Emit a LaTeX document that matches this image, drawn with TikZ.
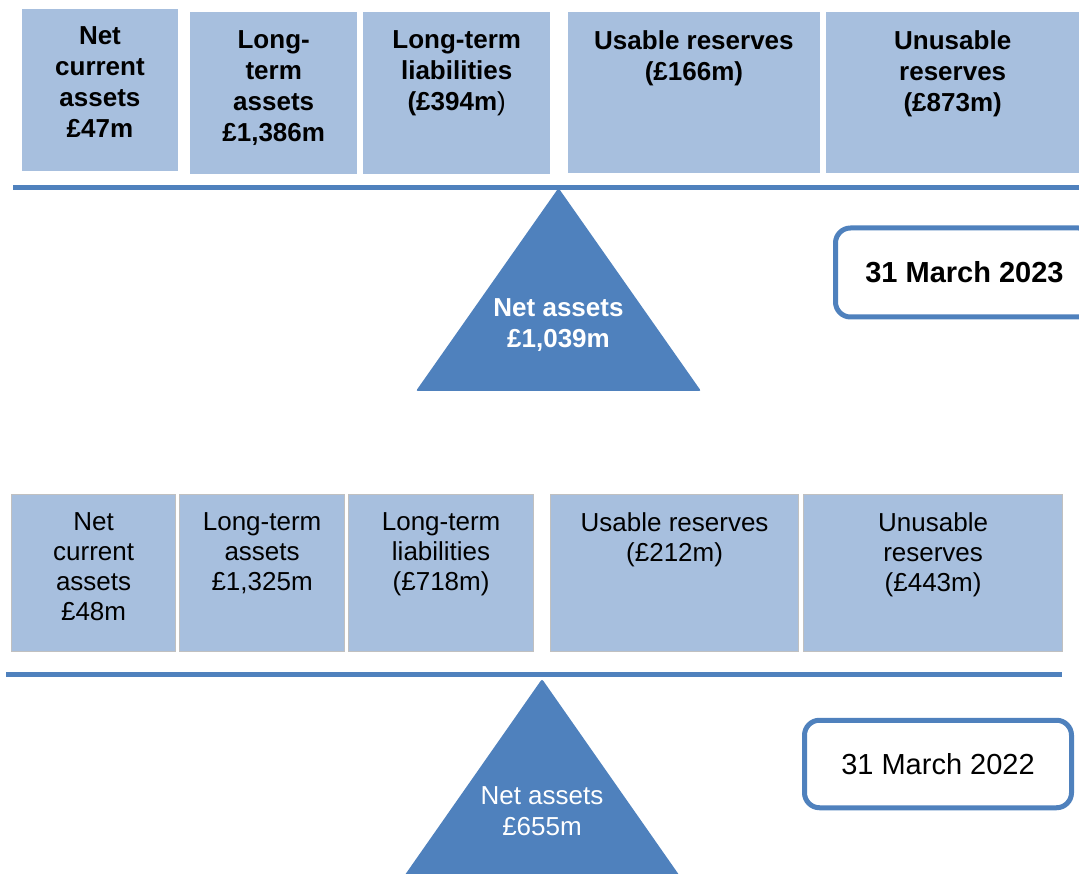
\documentclass[tikz,border=0pt]{standalone}
\usepackage{fontspec}
\setmainfont{Liberation Sans}
\definecolor{boxblue}{RGB}{167,191,222}
\definecolor{accent}{RGB}{79,129,189}
\definecolor{edgegray}{RGB}{192,192,192}
\tikzset{
  topbox/.style={fill=boxblue, draw=none, inner sep=0pt, anchor=north west},
  botbox/.style={fill=boxblue, draw=edgegray, line width=1.2pt, inner sep=0pt, anchor=north west},
  toptxt/.style={anchor=north, inner sep=0pt, align=center, font=\fontsize{26}{31}\selectfont\bfseries},
  bottxt/.style={anchor=north, inner sep=0pt, align=center, font=\fontsize{26}{30}\selectfont},
  beam/.style={draw=accent, line width=5pt},
  fulcrum/.style={fill=accent, rounded corners=2pt},
  datebox/.style={draw=accent, line width=5pt, fill=white, rounded corners=15pt, inner sep=0pt, font=\fontsize{29}{34}\selectfont}
}
\begin{document}
\begin{tikzpicture}[x=1pt,y=-1pt]
\useasboundingbox (0,0) rectangle (1079,874);
\clip (0,0) rectangle (1079,874);

% ---------- 2023 ----------
\node[topbox, minimum width=156.5pt, minimum height=162pt] (t1) at (21.5,8.5) {};
\node[topbox, minimum width=167pt, minimum height=162pt] (t2) at (190,12) {};
\node[topbox, minimum width=187pt, minimum height=162pt] (t3) at (363,12) {};
\node[topbox, minimum width=252.5pt, minimum height=161pt] (t4) at (567.5,12) {};
\node[topbox, minimum width=253pt, minimum height=161pt] (t5) at (826,12) {};

\node[toptxt] (t1t) at ([yshift=-18pt]t1.north) {Net\\current\\assets\\£47m};
\node[toptxt] (t2t) at ([yshift=-18pt]t2.north) {Long-\\term\\assets\\£1,386m};
\node[toptxt] (t3t) at ([yshift=-18pt]t3.north) {Long-term\\liabilities\\(£394m{\mdseries)}};
\node[toptxt] (t4t) at ([yshift=-18pt]t4.north) {Usable reserves\\(£166m)};
\node[toptxt] (t5t) at ([yshift=-18pt]t5.north) {Unusable\\reserves\\(£873m)};

\coordinate (l1a) at (13,187.5);
\coordinate (l1b) at (1085,187.5);
\draw[beam] (l1a) -- (l1b);

\coordinate (f1top) at (558.5,188);
\coordinate (f1l) at (416,391);
\coordinate (f1r) at (701,391);
\fill[fulcrum] (f1top) -- (f1r) -- (f1l) -- cycle;
\node[anchor=north, inner sep=0pt, align=center, text=white, font=\fontsize{26}{31}\selectfont\bfseries] (n1) at (558.5,298.5) {Net assets\\£1,039m};

\node[datebox, minimum width=258pt, minimum height=89pt, font=\fontsize{29}{34}\selectfont\bfseries] (d1) at (964.5,272.5) {31 March 2023};

% ---------- 2022 ----------
\node[botbox, minimum width=164pt, minimum height=157pt] (b1) at (11,494) {};
\node[botbox, minimum width=165pt, minimum height=157pt] (b2) at (179,494) {};
\node[botbox, minimum width=185pt, minimum height=157pt] (b3) at (348,494) {};
\node[botbox, minimum width=248pt, minimum height=157pt] (b4) at (550,494) {};
\node[botbox, minimum width=259pt, minimum height=157pt] (b5) at (803,494) {};

\node[bottxt] (b1t) at ([yshift=-18pt]b1.north) {Net\\current\\assets\\£48m};
\node[bottxt] (b2t) at ([yshift=-18pt]b2.north) {Long-term\\assets\\£1,325m};
\node[bottxt] (b3t) at ([yshift=-18pt]b3.north) {Long-term\\liabilities\\(£718m)};
\node[bottxt] (b4t) at ([yshift=-18pt]b4.north) {Usable reserves\\(£212m)};
\node[bottxt] (b5t) at ([yshift=-18pt]b5.north) {Unusable\\reserves\\(£443m)};

\coordinate (l2a) at (6,674);
\coordinate (l2b) at (1062,674);
\draw[beam] (l2a) -- (l2b);

\coordinate (f2top) at (542,679);
\coordinate (f2l) at (400,882);
\coordinate (f2r) at (684,882);
\fill[fulcrum] (f2top) -- (f2r) -- (f2l) -- cycle;
\node[anchor=north, inner sep=0pt, align=center, text=white, font=\fontsize{26}{31}\selectfont] (n2) at (542,786) {Net assets\\£655m};

\node[datebox, minimum width=267pt, minimum height=87.5pt] (d2) at (938,764) {31 March 2022};
\end{tikzpicture}
\end{document}
